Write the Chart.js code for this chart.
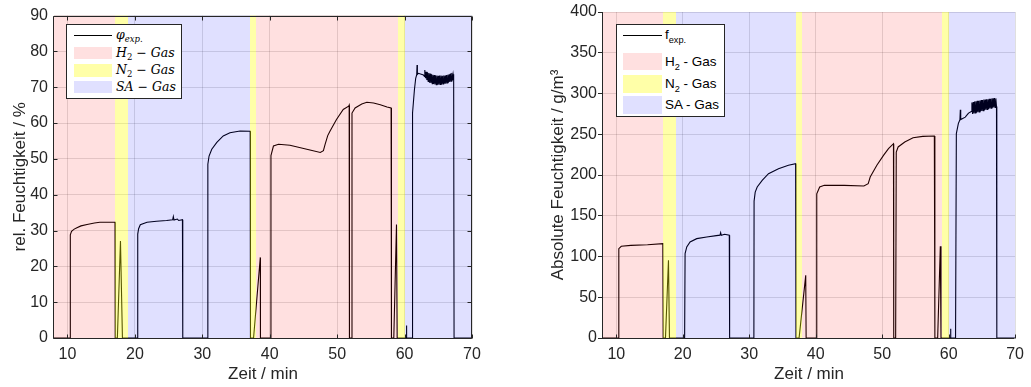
<!DOCTYPE html>
<html><head><meta charset="utf-8">
<script src="https://cdn.jsdelivr.net/npm/chart.js@4/dist/chart.umd.min.js"></script>
<style>
html,body{margin:0;padding:0;background:#fff;}
#wrap{position:relative;width:1031px;height:387px;overflow:hidden;background:#fff;}
canvas{position:absolute;top:0;}
.legend{position:absolute;background:#fff;border:1px solid #262626;box-sizing:border-box;}
.legend .smp{position:absolute;}
.legend .txt{position:absolute;white-space:nowrap;color:#000;line-height:1;}
.legend sub{font-size:68%;vertical-align:-0.4em;line-height:0;}
.math{font-family:"DejaVu Serif","Liberation Serif",serif;font-style:italic;font-size:12.5px;}
.math .up{font-style:normal;}
.sans{font-family:"Liberation Sans",Arial,sans-serif;font-size:13.5px;}
</style></head>
<body>
<div id="wrap">
<canvas id="c1" width="515" height="387" style="left:0px"></canvas>
<canvas id="c2" width="516" height="387" style="left:515px"></canvas>
<div class="legend" id="lg1" style="left:66px;top:24px;width:116px;height:75px"></div>
<div class="legend" id="lg2" style="left:616px;top:24px;width:109px;height:93px"></div>
</div>
<script>
// ---------- data ----------
const xTicks = [10, 20, 30, 40, 50, 60, 70];
const yTicksRel = [0, 10, 20, 30, 40, 50, 60, 70, 80, 90];
const yTicksAbs = [0, 50, 100, 150, 200, 250, 300, 350, 400];

// gas phases (min)
const bandStart = [8, 17, 19, 37, 38, 59, 60];
const bandEnd   = [17, 19, 37, 38, 59, 60, 70];
const bandGas   = ['H2', 'N2', 'SA', 'N2', 'H2', 'N2', 'SA'];
const gasOrder  = ['H2', 'N2', 'SA'];

// relative humidity (%)
const relTime = [8,10.38,10.42,10.6,11.0,11.4,12.0,12.9,14.0,14.8,16.0,17.05,17.08,17.4,17.86,18.15,
 20.35,20.42,20.55,20.8,21.8,23.2,24.7,25.6,25.7,25.8,26.3,26.5,27.05,27.1,
 30.78,30.82,31.0,31.4,32.15,33.1,34.1,35.6,37.1,37.14,37.6,38.6,38.62,
 40.13,40.18,40.55,41.3,43.0,45.5,47.5,47.96,48.2,48.6,48.95,49.9,50.9,51.7,51.78,51.82,
 52.15,52.2,52.66,53.65,54.4,55.4,56.4,57.4,58.0,58.05,58.4,58.8,58.9,
 60.25,60.28,60.32,61.14,61.18,61.46,61.65,61.8,61.85,61.9,62.05,62.8,62.95,
 63.0,63.1,63.2,63.3,63.4,63.5,63.6,63.7,63.8,63.9,64.0,64.1,64.2,64.3,64.4,64.5,64.6,64.7,64.8,64.9,
 65.0,65.1,65.2,65.3,65.4,65.5,65.6,65.7,65.8,65.9,66.0,66.1,66.2,66.3,66.4,66.5,66.6,66.7,66.8,66.9,
 67.0,67.1,67.2,67.28,67.34,70];
const relValue = [0,0,28.8,29.8,30.4,30.8,31.3,31.7,32.1,32.3,32.3,32.3,0,0,27.1,0,
 0,29.0,30.5,31.6,32.3,32.6,32.8,33.0,33.9,32.9,33.2,32.8,33.0,0,
 0,48.5,50.8,52.7,54.6,56.4,57.3,57.8,57.7,0,0,22.5,0,
 0,50.9,53.6,54.1,53.8,52.7,51.8,52.3,54.0,56.5,57.8,61,63.8,64.7,65,0,
 0,62.8,64.2,65.3,65.8,65.6,65.1,64.5,64.2,0,0,31.7,0,
 0,3.5,0,0,62.8,69.3,72.5,73.5,76.2,73.6,73.9,73.4,73.0,
 74.8,72.5,74.3,72.0,74.2,71.6,74.0,71.3,73.8,71.2,73.6,71.0,73.5,70.9,73.4,70.8,73.3,70.7,73.3,70.7,
 73.2,70.7,73.3,70.8,73.3,70.8,73.2,70.9,73.3,71.0,73.3,71.0,73.4,71.2,73.5,71.3,73.6,71.5,73.8,71.7,
 74.0,71.9,73.6,72.5,0,0];

// absolute humidity (g/m^3)
const absTime = [8,10.33,10.38,10.75,12.2,14.7,17.0,17.05,17.4,17.85,18.0,
 20.28,20.35,20.6,21.1,22.1,23.6,25.05,25.6,25.7,25.8,26.3,27.0,27.05,
 30.7,30.73,30.9,31.2,31.95,32.9,34.4,35.9,36.98,37.03,37.5,38.5,38.56,
 40.08,40.16,40.6,41.3,44.3,47.25,47.9,48.2,49.2,50.2,50.95,51.7,51.74,
 52.03,52.12,52.4,53.4,54.65,56.1,57.85,57.93,58.35,58.75,58.85,
 60.27,60.3,60.33,61.04,61.16,61.46,61.7,61.76,61.82,62.05,62.5,62.9,63.0,63.4,
 63.5,63.6,63.7,63.8,63.9,64.0,64.1,64.2,64.3,64.4,64.5,64.6,64.7,64.8,64.9,
 65.0,65.1,65.2,65.3,65.4,65.5,65.6,65.7,65.8,65.9,66.0,66.1,66.2,66.3,66.4,66.5,66.6,66.7,66.8,66.9,
 67.0,67.1,67.2,67.25,70];
const absValue = [0,0,109.6,112.5,113.7,114.5,115.7,0,0,95.3,0,
 0,103.5,111.7,117.8,121.9,124,125.6,126.2,129.2,126.0,127.2,126.0,0,
 0,168,179,185.3,193.5,201.6,207.8,211.9,213.9,0,0,76.9,0,
 0,177,185.3,187.3,187.3,186.5,189.4,197.5,211.9,224.1,232.3,238.4,0,
 0,228.2,234.4,240.5,245.8,247.4,247.9,0,0,112.5,0,
 0,11.5,0,0,250.7,263,268,280,268,269,271,275,276,278,
 289,275,289.5,275.5,290,276,290.5,276.5,291,277,291,277.5,291.5,278,292,
 278.5,292,279,292.5,279.5,292.5,280,293,280.5,293,281,293.5,281.5,293.5,282,294,282.5,294,283,294.5,
 283,294,284,0,0];

// ---------- styles ----------
const INK = '#262626';
const GRID = 'rgba(38,38,38,0.15)';
const gasFill = {H2: 'rgba(255,0,0,0.12)', N2: 'rgba(255,255,0,0.34)', SA: 'rgba(0,0,255,0.12)'};
Chart.defaults.font.family = '"Liberation Sans", Arial, Helvetica, sans-serif';
Chart.defaults.color = INK;

function bandPlugin(box, tickIn) {
  return {
    id: 'bands',
    afterDatasetsDraw(chart) {
      const {ctx, chartArea: a, scales: {x, y}} = chart;
      ctx.save();
      for (let i = 0; i < bandStart.length; i++) {
        const x0 = Math.round(x.getPixelForValue(bandStart[i]));
        const x1 = Math.round(x.getPixelForValue(bandEnd[i]));
        ctx.fillStyle = gasFill[bandGas[i]];
        ctx.fillRect(x0, a.top, x1 - x0, a.bottom - a.top);
      }
      ctx.strokeStyle = INK; ctx.lineWidth = 1;
      const L = Math.round(a.left) - 0.5, B = Math.round(a.bottom) + 0.5;
      const R = Math.round(a.right) - 0.5, T = Math.round(a.top) + 0.5;
      ctx.beginPath();
      ctx.moveTo(L, T); ctx.lineTo(L, B); ctx.lineTo(R, B);
      if (box) { ctx.lineTo(R, T); ctx.lineTo(L, T); }
      // inward ticks
      x.ticks.forEach(t => {
        const px = Math.round(x.getPixelForValue(t.value)) + 0.5;
        ctx.moveTo(px, B); ctx.lineTo(px, B - 4);
        if (box) { ctx.moveTo(px, T); ctx.lineTo(px, T + 4); }
      });
      if (tickIn) {
        y.ticks.forEach(t => {
          const py = Math.round(y.getPixelForValue(t.value)) + 0.5;
          ctx.moveTo(L, py); ctx.lineTo(L + 4, py);
          if (box) { ctx.moveTo(R, py); ctx.lineTo(R - 4, py); }
        });
      }
      ctx.stroke();
      ctx.restore();
    }
  };
}

function makeChart(id, times, values, yMax, yTicks, yTitle, opts) {
  return new Chart(document.getElementById(id), {
    type: 'line',
    data: {datasets: [{
      data: times.map((t, i) => ({x: t, y: values[i]})),
      borderColor: '#000', borderWidth: 1.1, pointRadius: 0, tension: 0, fill: false
    }]},
    options: {
      responsive: false, animation: false, devicePixelRatio: 1,
      layout: {padding: {top: 12, right: opts.padRight, left: 0, bottom: 0}},
      plugins: {legend: {display: false}, tooltip: {enabled: false}},
      scales: {
        x: {
          type: 'linear', min: 8, max: 70,
          afterBuildTicks: s => { s.ticks = xTicks.map(v => ({value: v})); },
          afterFit: s => { s.height = 49; },
          grid: {color: GRID, drawTicks: false},
          border: {display: false},
          ticks: {padding: 7, color: INK, font: {size: 16}, maxRotation: 0},
          title: {display: true, text: 'Zeit / min', color: INK, font: {size: 17}, padding: {top: 0, bottom: 2}}
        },
        y: {
          type: 'linear', min: 0, max: yMax,
          afterBuildTicks: s => { s.ticks = yTicks.map(v => ({value: v})); },
          afterFit: s => { s.width = opts.yWidth; },
          grid: {color: GRID, drawTicks: opts.yTickOut, tickLength: 5, tickColor: INK},
          border: {display: false},
          ticks: {padding: opts.yTickOut ? 1 : 6, color: INK, font: {size: 16}},
          title: {display: true, text: yTitle, color: INK, font: {size: 17}, padding: {top: opts.titlePad, bottom: 0}}
        }
      }
    },
    plugins: [bandPlugin(opts.box, !opts.yTickOut)]
  });
}

makeChart('c1', relTime, relValue, 90, yTicksRel, 'rel. Feuchtigkeit / %',
  {padRight: 43, yWidth: 54, titlePad: 10, box: true, yTickOut: false});
makeChart('c2', absTime, absValue, 400, yTicksAbs, 'Absolute Feuchtigkeit / g/m³',
  {padRight: 9, yWidth: 88, titlePad: 33, box: false, yTickOut: true});

// ---------- legends (HTML) ----------
const legendRel = {
  el: 'lg1', cls: 'math', sx: 7, sw: 38, tx: 49, ph: 12.5, centers: [10, 28, 45.5, 62],
  lineLabel: '<i>φ</i><sub><i>exp.</i></sub>',
  gasLabels: {H2: 'H<sub class="up">2</sub> <span class="up">−</span> Gas', N2: 'N<sub class="up">2</sub> <span class="up">−</span> Gas', SA: 'SA <span class="up">−</span> Gas'}
};
const legendAbs = {
  el: 'lg2', cls: 'sans', sx: 6, sw: 39, tx: 48, ph: 17.5, centers: [10, 36.5, 59, 80],
  lineLabel: 'f<sub>exp.</sub>',
  gasLabels: {H2: 'H<sub>2</sub> - Gas', N2: 'N<sub>2</sub> - Gas', SA: 'SA - Gas'}
};
[legendRel, legendAbs].forEach(L => {
  const box = document.getElementById(L.el);
  box.classList.add(L.cls);
  const add = (html, center, isLine, gas) => {
    const s = document.createElement('div');
    s.className = 'smp';
    s.style.left = L.sx + 'px'; s.style.width = L.sw + 'px';
    if (isLine) { s.style.top = (center - 0.5) + 'px'; s.style.height = '1.2px'; s.style.background = '#000'; }
    else { s.style.top = (center - L.ph / 2) + 'px'; s.style.height = L.ph + 'px'; s.style.background = gasFill[gas]; }
    box.appendChild(s);
    const t = document.createElement('div');
    t.className = 'txt';
    t.innerHTML = html;
    t.style.left = L.tx + 'px';
    box.appendChild(t);
    const h = t.getBoundingClientRect().height;
    t.style.top = (center - h / 2) + 'px';
  };
  add(L.lineLabel, L.centers[0], true);
  gasOrder.forEach((g, i) => add(L.gasLabels[g], L.centers[i + 1], false, g));
});
</script>
</body></html>
